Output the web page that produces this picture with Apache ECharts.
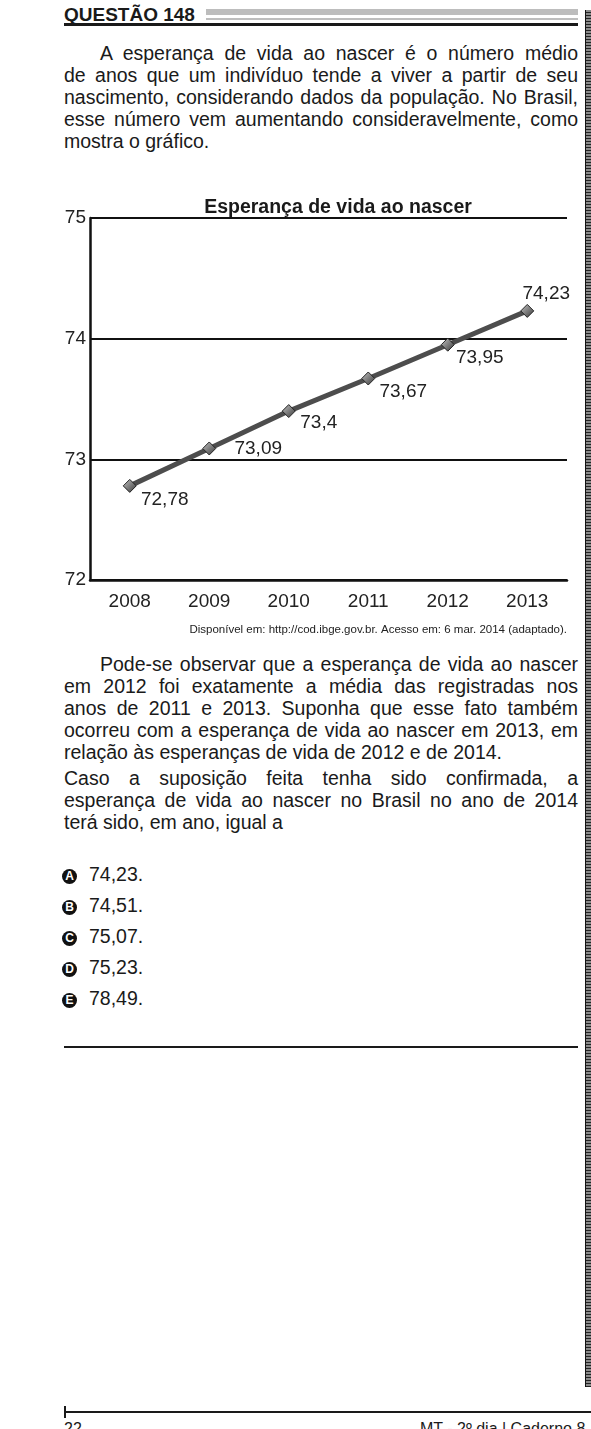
<!DOCTYPE html>
<html>
<head>
<meta charset="utf-8">
<script src="https://cdn.jsdelivr.net/npm/echarts@6/dist/echarts.min.js"></script>
<style>
  html, body { margin:0; padding:0; }
  body { width:591px; height:1429px; position:relative; background:#fff; overflow:hidden;
         font-family:"Liberation Sans", Arial, sans-serif; color:#1a1a1a; }
  .abs { position:absolute; }
  .p { left:64px; width:514px; font-size:19.5px; line-height:22px; margin:0; }
  .p div { text-align:justify; text-align-last:justify; height:22px; }
  .p div.last { text-align:left; text-align-last:left; }
  .p div.ind { padding-left:36px; }
  .opt { left:62px; font-size:19.5px; line-height:22px; white-space:nowrap; }
  .ico { display:inline-block; width:15px; height:15px; border-radius:50%; background:#111; color:#fff;
         font-weight:bold; font-size:12px; line-height:15px; text-align:center; vertical-align:1px; margin-right:12px; }
  #chart { position:absolute; left:0; top:180px; width:591px; height:470px; }
  .strip { left:585px; top:10px; width:5px; height:1377px; border-left:1px solid #111; border-right:1px solid #111;
           background: repeating-linear-gradient(0deg, #222 0px, #222 1px, #8a8a8a 1px, #8a8a8a 3px); }
</style>
</head>
<body>
<div class="abs" style="left:64px;top:4px;font-size:19px;font-weight:bold;line-height:22px;">QUESTÃO 148</div>
<div class="abs" style="left:206px;top:9px;width:372px;height:6px;background:#bdbdbd;"></div>
<div class="abs" style="left:206px;top:18px;width:372px;height:2px;background:#bdbdbd;"></div>
<div class="abs" style="left:64px;top:23px;width:514px;height:3px;background:#1a1a1a;"></div>

<div class="abs p" style="top:42px;">
  <div class="ind">A esperança de vida ao nascer é o número médio</div>
  <div>de anos que um indivíduo tende a viver a partir de seu</div>
  <div>nascimento, considerando dados da população. No Brasil,</div>
  <div>esse número vem aumentando consideravelmente, como</div>
  <div class="last">mostra o gráfico.</div>
</div>

<div id="chart"></div>

<div class="abs p" style="top:653px;">
  <div class="ind">Pode-se observar que a esperança de vida ao nascer</div>
  <div>em 2012 foi exatamente a média das registradas nos</div>
  <div>anos de 2011 e 2013. Suponha que esse fato também</div>
  <div>ocorreu com a esperança de vida ao nascer em 2013, em</div>
  <div class="last">relação às esperanças de vida de 2012 e de 2014.</div>
</div>
<div class="abs p" style="top:767px;">
  <div>Caso a suposição feita tenha sido confirmada, a</div>
  <div>esperança de vida ao nascer no Brasil no ano de 2014</div>
  <div class="last">terá sido, em ano, igual a</div>
</div>

<div class="abs opt" style="top:863px;"><span class="ico">A</span>74,23.</div>
<div class="abs opt" style="top:894px;"><span class="ico">B</span>74,51.</div>
<div class="abs opt" style="top:925px;"><span class="ico">C</span>75,07.</div>
<div class="abs opt" style="top:956px;"><span class="ico">D</span>75,23.</div>
<div class="abs opt" style="top:987px;"><span class="ico">E</span>78,49.</div>

<div class="abs" style="left:64px;top:1046px;width:514px;height:2px;background:#1a1a1a;"></div>

<div class="abs strip"></div>

<div class="abs" style="left:64px;top:1411px;width:527px;height:2px;background:#1a1a1a;"></div>
<div class="abs" style="left:64px;top:1406px;width:2px;height:12px;background:#1a1a1a;"></div>
<div class="abs" style="left:64px;top:1420px;font-size:16px;line-height:18px;">22</div>
<div class="abs" style="left:420px;top:1420px;font-size:16px;line-height:18px;white-space:nowrap;">MT - 2º dia | Caderno 8</div>

<script>
// ---- data ----
const years = ['2008', '2009', '2010', '2011', '2012', '2013'];
const lifeExpectancy = [72.78, 73.09, 73.4, 73.67, 73.95, 74.23];
const yMin = 72, yMax = 75, yStep = 1;
const chartTitle = 'Esperança de vida ao nascer';
const sourceNote = 'Disponível em: http://cod.ibge.gov.br. Acesso em: 6 mar. 2014 (adaptado).';

// label placement (style only)
const labelShift = [[35, 14], [49, 0], [30, 12], [35, 13], [32, 13], [19, -17]];

const FONT = '"Liberation Sans", Arial, sans-serif';
const chart = echarts.init(document.getElementById('chart'), null, { renderer: 'canvas' });

const fmt = v => String(v).replace('.', ',');

chart.setOption({
  animation: false,
  title: {
    text: chartTitle,
    left: 333, top: 13, textAlign: 'center',
    textStyle: { fontSize: 19.5, fontWeight: 'bold', color: '#1a1a1a', fontFamily: FONT }
  },
  grid: { left: 90, right: 24, top: 38, bottom: 70 },
  xAxis: {
    type: 'category', data: years, boundaryGap: true,
    axisLine: { lineStyle: { color: '#111', width: 2.5 } },
    axisTick: { show: false },
    axisLabel: { fontSize: 19, color: '#222', margin: 12, fontFamily: FONT }
  },
  yAxis: {
    type: 'value', min: yMin, max: yMax, interval: yStep,
    axisLine: { show: true, lineStyle: { color: '#111', width: 2.5 } },
    axisTick: { show: false },
    axisLabel: { fontSize: 19, color: '#222', margin: 4, fontFamily: FONT },
    splitLine: { lineStyle: { color: '#111', width: 2 } }
  },
  graphic: [{
    type: 'text', right: 24, top: 444,
    style: { text: sourceNote, fontSize: 11.5, fill: '#222', fontFamily: FONT }
  }],
  series: [{
    type: 'line',
    data: lifeExpectancy.map((v, i) => ({ value: v, label: { offset: labelShift[i] } })),
    lineStyle: { color: '#4d4d4d', width: 5 },
    symbol: 'diamond', symbolSize: 13,
    itemStyle: {
      color: new echarts.graphic.LinearGradient(0, 0, 1, 1, [
        { offset: 0, color: '#c8c8c8' }, { offset: 1, color: '#333' }
      ]),
      borderColor: '#222', borderWidth: 1
    },
    label: {
      show: true, position: 'inside', fontSize: 19, color: '#222', fontFamily: FONT,
      formatter: p => fmt(p.value)
    },
    z: 3
  }]
});
</script>
</body>
</html>
